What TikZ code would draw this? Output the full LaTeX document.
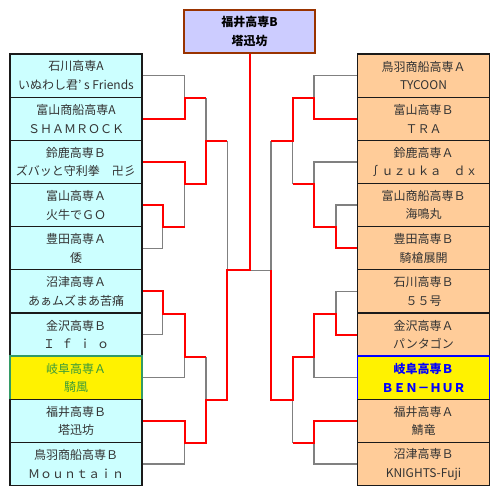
\documentclass[tikz,border=0pt]{standalone}
\usepackage{fontspec}
\setmainfont{Noto Sans CJK JP}
\usetikzlibrary{backgrounds}
\definecolor{lcyan}{HTML}{CCFFFF}
\definecolor{rpeach}{HTML}{FFCC99}
\definecolor{lav}{HTML}{CCCCFF}
\definecolor{brn}{HTML}{993300}
\definecolor{linegray}{HTML}{808080}
\definecolor{txt}{HTML}{333333}
\definecolor{gifugreen}{HTML}{339966}
\definecolor{gifutext}{HTML}{3A9A3A}
\definecolor{boxline}{HTML}{1A1A1A}
\begin{document}
\begin{tikzpicture}[x=0.75pt,y=-0.75pt,
  team/.style={draw=boxline,line width=0.9pt,minimum width=99pt,minimum height=32.4pt,
    inner sep=0pt,align=center,font=\fontsize{9}{14}\selectfont,text=txt},
  lbox/.style={team,fill=lcyan},
  rbox/.style={team,fill=rpeach},
  ylbox/.style={team,fill=yellow,draw=gifugreen,line width=1.1pt,text=gifutext},
  yrbox/.style={team,fill=yellow,draw=blue,line width=1.1pt,text=blue,font=\fontsize{9}{14}\selectfont\bfseries},
  champ/.style={draw=brn,line width=1.5pt,fill=lav,minimum width=98pt,minimum height=32pt,
    inner sep=0pt,align=center,font=\fontsize{9}{14}\selectfont\bfseries,text=black},
  loser/.style={draw=linegray,line width=1pt},
  winner/.style={draw=red,line width=1.5pt},
]
\useasboundingbox (0,0) rectangle (500,494);

\coordinate (xa) at (162.7,0);
\coordinate (xb) at (184.7,0);
\coordinate (xc) at (206,0);
\coordinate (xd) at (227.3,0);
\coordinate (ya) at (336,0);
\coordinate (yb) at (314,0);
\coordinate (yc) at (292.5,0);
\coordinate (yd) at (271,0);

\node[champ] (W) at (249.5,31.5) {福井高専B\\塔迅坊};

\node[lbox] (L1) at (76,75.59) {石川高専A\\いぬわし君’ s Friends};
\node[lbox] (L2) at (76,118.76) {富山商船高専A\\ＳＨＡＭＲＯＣＫ};
\node[lbox] (L3) at (76,161.93) {鈴鹿高専Ｂ\\ズバッと守利拳　卍彡};
\node[lbox] (L4) at (76,205.10) {富山高専Ａ\\火牛でＧＯ};
\node[lbox] (L5) at (76,248.27) {豊田高専Ａ\\倭};
\node[lbox] (L6) at (76,291.44) {沼津高専Ａ\\あぁムズまあ苦痛};
\node[lbox] (L7) at (76,334.61) {金沢高専Ｂ\\Ｉ\hspace{.5em}ｆ\hspace{.5em}ｉ\hspace{.5em}ｏ};
\node[ylbox] (L8) at (76,377.78) {岐阜高専Ａ\\騎風};
\node[lbox] (L9) at (76,420.95) {福井高専Ｂ\\塔迅坊};
\node[lbox] (L10) at (76,464.12) {鳥羽商船高専Ｂ\\Ｍｏｕｎｔａｉｎ};

\node[rbox] (R1) at (423.5,75.59) {鳥羽商船高専Ａ\\TYCOON};
\node[rbox] (R2) at (423.5,118.76) {富山高専Ｂ\\ＴＲＡ};
\node[rbox] (R3) at (423.5,161.93) {鈴鹿高専Ａ\\∫ｕｚｕｋａ　ｄｘ};
\node[rbox] (R4) at (423.5,205.10) {富山商船高専Ｂ\\海鳴丸};
\node[rbox] (R5) at (423.5,248.27) {豊田高専Ｂ\\騎槍展開};
\node[rbox] (R6) at (423.5,291.44) {石川高専Ｂ\\５５号};
\node[rbox] (R7) at (423.5,334.61) {金沢高専Ａ\\パンタゴン};
\node[yrbox] (R8) at (423.5,377.78) {岐阜高専Ｂ\\ＢＥＮ－ＨＵＲ};
\node[rbox] (R9) at (423.5,420.95) {福井高専Ａ\\鯖竜};
\node[rbox] (R10) at (423.5,464.12) {沼津高専Ｂ\\KNIGHTS-Fuji};

\begin{scope}[on background layer]
\fill[white] (0,0) rectangle (500,494);
% left, losing paths
\draw[loser] (L1.east) -| (xb |- L1.south);
\draw[loser] (xc |- L1.south) -- (xc |- L2.south);
\draw[loser] (L5.east) -| (xa |- L4.south);
\draw[loser] (xb |- L4.south) -- (xb |- L3.south);
\draw[loser] (xd |- L2.south) -- (xd |- L5.south);
\draw[loser] (L7.east) -| (xa |- L6.south);
\draw[loser] (L8.east) -| (xb |- L7.south);
\draw[loser] (xc |- L7.south) -- (xc |- L8.south);
\draw[loser] (L10.east) -| (xb |- L9.south);
% right, losing paths
\draw[loser] (R1.west) -| (yb |- R1.south);
\draw[loser] (R3.west) -| (yb |- R3.south);
\draw[loser] (R4.west) -| (ya |- R4.south);
\draw[loser] (yc |- R3.south) -- (yc |- R2.south);
\draw[loser] (yd |- R2.south) -- (yd |- R5.south) -- (W.south |- R5.south);
\draw[loser] (R6.west) -| (ya |- R6.south);
\draw[loser] (R8.west) -| (yb |- R7.south);
\draw[loser] (R10.west) -| (yb |- R9.south);
\draw[loser] (yc |- R8.south) -- (yc |- R9.south);
% left, winning paths
\draw[winner] (L2.east) -| (xb |- L1.south) -- (xc |- L1.south);
\draw[winner] (L3.east) -| (xb |- L3.south) -- (xc |- L3.south) -- (xc |- L2.south) -- (xd |- L2.south);
\draw[winner] (L4.east) -| (xa |- L4.south) -- (xb |- L4.south);
\draw[winner] (L6.east) -| (xa |- L6.south) -- (xb |- L6.south) -- (xb |- L7.south) -- (xc |- L7.south);
\draw[winner] (L9.east) -| (xb |- L9.south) -- (xc |- L9.south) -- (xc |- L8.south) -- (xd |- L8.south)
   -- (xd |- L5.south) -- (W.south |- L5.south) -- (W.south);
% right, winning paths
\draw[winner] (R2.west) -| (yb |- R1.south) -- (yc |- R1.south) -- (yc |- R2.south) -- (yd |- R2.south);
\draw[winner] (R5.west) -| (ya |- R4.south) -- (yb |- R4.south) -- (yb |- R3.south) -- (yc |- R3.south);
\draw[winner] (R7.west) -| (ya |- R6.south) -- (yb |- R6.south) -- (yb |- R7.south) -- (yc |- R7.south)
   -- (yc |- R8.south) -- (yd |- R8.south) -- (yd |- R5.south);
\draw[winner] (R9.west) -| (yb |- R9.south) -- (yc |- R9.south);
\end{scope}
\end{tikzpicture}
\end{document}
